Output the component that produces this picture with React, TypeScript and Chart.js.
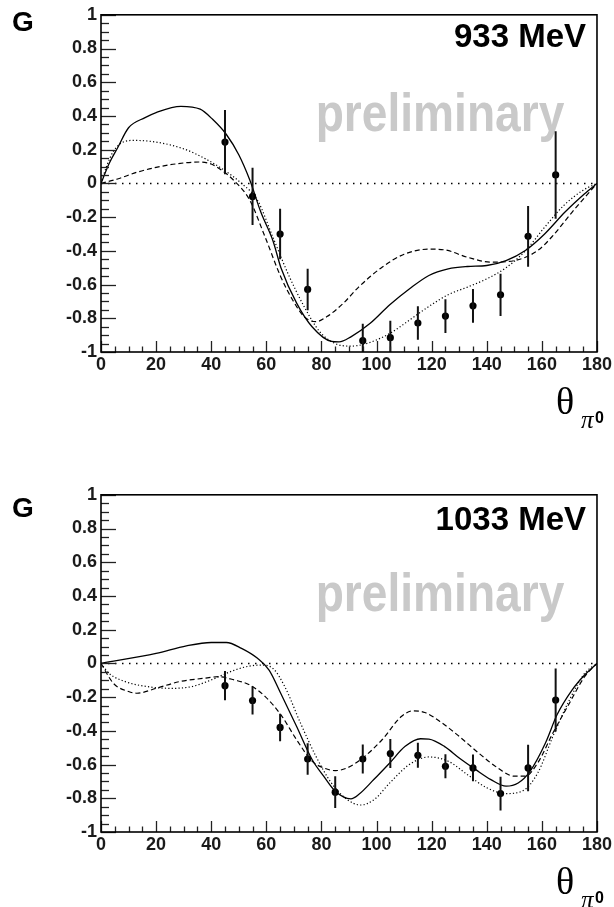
import React, { useEffect, useRef } from 'react';
import { Chart, registerables } from 'chart.js';
Chart.register(...registerables);

// ---------- axes ----------
const xTickValues = [0, 20, 40, 60, 80, 100, 120, 140, 160, 180];
const xTickLabels = ['0', '20', '40', '60', '80', '100', '120', '140', '160', '180'];
const yTickValues = [-1, -0.8, -0.6, -0.4, -0.2, 0, 0.2, 0.4, 0.6, 0.8, 1];
const yTickLabels = ['-1', '-0.8', '-0.6', '-0.4', '-0.2', '0', '0.2', '0.4', '0.6', '0.8', '1'];
const refLineX = [0, 180];
const refLineY = [0, 0];

// ---------- 933 MeV ----------
const data933X = [45, 55, 65, 75, 95, 105, 115, 125, 135, 145, 155, 165];
const data933Y = [0.245, -0.077, -0.3, -0.629, -0.933, -0.915, -0.828, -0.787, -0.726, -0.661, -0.314, 0.05];
const data933Err = [0.19, 0.17, 0.15, 0.123, 0.1, 0.1, 0.1, 0.1, 0.1, 0.125, 0.18, 0.26];

const solid933X = [0, 3, 6, 10, 16, 20, 29, 36, 40.5, 45.5, 50, 54, 58, 62.4, 65.3, 71, 76.6, 83.6, 86.4, 90.7, 97.7, 104.8, 112, 119, 126, 133, 140, 147, 154, 161, 168.4, 175.4, 180];
const solid933Y = [0, 0.12, 0.21, 0.33, 0.39, 0.42, 0.457, 0.44, 0.38, 0.29, 0.17, 0.02, -0.17, -0.34, -0.5, -0.71, -0.85, -0.937, -0.94, -0.91, -0.83, -0.72, -0.625, -0.546, -0.507, -0.493, -0.487, -0.458, -0.398, -0.3, -0.17, -0.063, 0];

const dashed933X = [0, 6, 13, 20, 27, 35.6, 40, 44, 48.3, 54, 59.6, 65.3, 69.5, 73.7, 78, 82, 88, 93.5, 102, 110, 119, 124.6, 133, 141.5, 150, 158.5, 164, 171, 180];
const dashed933Y = [0, 0.026, 0.066, 0.095, 0.115, 0.127, 0.115, 0.075, 0.016, -0.1, -0.32, -0.556, -0.69, -0.79, -0.82, -0.79, -0.71, -0.615, -0.497, -0.42, -0.39, -0.394, -0.438, -0.467, -0.458, -0.398, -0.31, -0.17, 0];

const dotted933X = [0, 2, 4.5, 8.8, 12, 20, 30, 38, 45, 51, 56.8, 62.4, 68, 73.7, 79.4, 85, 90.7, 96.3, 104.8, 112, 119, 126, 133, 140, 147, 154, 161, 168, 175, 180];
const dotted933Y = [0, 0.1, 0.19, 0.25, 0.255, 0.245, 0.205, 0.145, 0.075, 0, -0.1, -0.32, -0.54, -0.73, -0.88, -0.95, -0.965, -0.95, -0.89, -0.81, -0.73, -0.66, -0.615, -0.566, -0.5, -0.4, -0.26, -0.13, -0.04, 0];

// ---------- 1033 MeV ----------
const data1033X = [45, 55, 65, 75, 85, 95, 105, 115, 125, 135, 145, 155, 165];
const data1033Y = [-0.132, -0.22, -0.38, -0.567, -0.764, -0.567, -0.535, -0.545, -0.61, -0.62, -0.772, -0.62, -0.217];
const data1033Err = [0.087, 0.083, 0.082, 0.094, 0.094, 0.086, 0.086, 0.074, 0.071, 0.079, 0.1, 0.138, 0.187];

const solid1033X = [0, 20, 31, 40, 45.5, 51, 56.8, 61, 65.3, 71, 76.6, 80.8, 85, 90.7, 93.5, 99, 104.8, 110.4, 116, 119, 124.6, 130, 136, 141.5, 147, 151.4, 155.7, 161.3, 165.5, 171, 175.5, 180];
const solid1033Y = [0, 0.059, 0.104, 0.124, 0.124, 0.089, 0.03, -0.04, -0.18, -0.374, -0.57, -0.669, -0.758, -0.803, -0.778, -0.689, -0.59, -0.492, -0.447, -0.449, -0.492, -0.561, -0.63, -0.689, -0.728, -0.709, -0.64, -0.472, -0.305, -0.157, -0.069, 0];

const dashed1033X = [0, 4.5, 10, 13, 20, 28.5, 37, 42.7, 48.3, 54, 59.6, 65.3, 71, 76.6, 80.8, 85, 89.3, 95, 102, 109, 113.3, 117.5, 123, 130, 137, 144, 150, 154, 158.5, 164, 170, 175.5, 180];
const dashed1033Y = [0, -0.118, -0.167, -0.177, -0.148, -0.108, -0.089, -0.079, -0.098, -0.128, -0.197, -0.305, -0.453, -0.58, -0.62, -0.636, -0.62, -0.561, -0.453, -0.315, -0.281, -0.291, -0.344, -0.433, -0.531, -0.62, -0.669, -0.669, -0.59, -0.413, -0.236, -0.079, 0];

const dotted1033X = [0, 3, 8.8, 17, 25.7, 32.8, 40, 47, 52.6, 58, 62.4, 66.7, 72.4, 78, 83.6, 89.3, 94.2, 99.2, 104.8, 111.9, 119, 126, 133, 140, 147, 152.8, 158.5, 164, 170, 175.5, 180];
const dotted1033Y = [0, -0.06, -0.108, -0.138, -0.148, -0.138, -0.098, -0.049, -0.02, -0.01, -0.03, -0.138, -0.354, -0.551, -0.709, -0.807, -0.84, -0.807, -0.709, -0.6, -0.555, -0.58, -0.66, -0.738, -0.772, -0.758, -0.65, -0.433, -0.217, -0.059, 0];

const zip = (xs: number[], ys: number[]) => xs.map((x, i) => ({ x, y: ys[i] }));
const SANS = '"Liberation Sans", Arial, Helvetica, sans-serif';
const SERIF = '"Liberation Serif", "DejaVu Serif", serif';

type PanelProps = {
  height: number;
  energy: string;
  ptsX: number[]; ptsY: number[]; ptsErr: number[];
  solidX: number[]; solidY: number[];
  dashedX: number[]; dashedY: number[];
  dottedX: number[]; dottedY: number[];
  gBase: number; energyBase: number; prelimBase: number;
};

function Panel(p: PanelProps) {
  const ref = useRef<HTMLCanvasElement | null>(null);
  useEffect(() => {
    if (!ref.current) return;
    const FRAME_BOTTOM = 352;
    const decor = {
      id: 'rootDecor',
      beforeDatasetsDraw(chart: any) {
        const ctx = chart.ctx;
        ctx.save();
        ctx.translate(440, p.prelimBase);
        ctx.scale(0.87, 1);
        ctx.font = `bold 53px ${SANS}`;
        ctx.fillStyle = '#c9c9c9';
        ctx.textAlign = 'center';
        ctx.textBaseline = 'alphabetic';
        ctx.fillText('preliminary', 0, 0);
        ctx.restore();
      },
      afterDatasetsDraw(chart: any) {
        const ctx = chart.ctx;
        const a = chart.chartArea;
        const xs = chart.scales.x;
        const ys = chart.scales.y;
        ctx.save();
        ctx.beginPath();
        ctx.rect(a.left, a.top, a.right - a.left, a.bottom - a.top);
        ctx.clip();
        ctx.strokeStyle = '#111';
        ctx.lineWidth = 2;
        p.ptsX.forEach((x, i) => {
          const px = xs.getPixelForValue(x);
          ctx.beginPath();
          ctx.moveTo(px, ys.getPixelForValue(p.ptsY[i] + p.ptsErr[i]));
          ctx.lineTo(px, ys.getPixelForValue(p.ptsY[i] - p.ptsErr[i]));
          ctx.stroke();
        });
        ctx.restore();
      },
      afterDraw(chart: any) {
        const ctx = chart.ctx;
        const a = chart.chartArea;
        const xs = chart.scales.x;
        const ys = chart.scales.y;
        ctx.save();
        ctx.strokeStyle = '#222';
        ctx.lineWidth = 1.3;
        for (let v = 0; v <= 180.001; v += 5) {
          const px = Math.round(xs.getPixelForValue(v)) + 0.5;
          const len = Math.abs(v % 20) < 1e-6 ? 11 : 5.5;
          ctx.beginPath();
          ctx.moveTo(px, a.bottom);
          ctx.lineTo(px, a.bottom - len);
          ctx.stroke();
        }
        for (let k = 0; k <= 40; k++) {
          const v = -1 + k * 0.05;
          const py = Math.round(ys.getPixelForValue(v)) + 0.5;
          const len = k % 4 === 0 ? 15 : 8;
          ctx.beginPath();
          ctx.moveTo(a.left, py);
          ctx.lineTo(a.left + len, py);
          ctx.stroke();
        }
        ctx.strokeStyle = '#000';
        ctx.lineWidth = 1.6;
        ctx.strokeRect(a.left, a.top, a.right - a.left, a.bottom - a.top);
        ctx.fillStyle = '#000';
        ctx.textBaseline = 'alphabetic';
        ctx.textAlign = 'left';
        ctx.font = `bold 28px ${SANS}`;
        ctx.fillText('G', 12, p.gBase);
        ctx.textAlign = 'right';
        ctx.font = `bold 33px ${SANS}`;
        ctx.fillText(p.energy, 586, p.energyBase);
        ctx.textAlign = 'left';
        ctx.font = `38px ${SERIF}`;
        ctx.fillText('θ', 556, 414);
        ctx.font = `italic 25px ${SERIF}`;
        ctx.fillText('π', 581, 428);
        ctx.font = `bold 16px ${SANS}`;
        ctx.fillText('0', 595, 423);
        ctx.restore();
      },
    };

    const lineDs = (xs: number[], ys: number[], dash: number[], width: number) => ({
      type: 'scatter' as const,
      data: zip(xs, ys),
      showLine: true,
      borderColor: '#000',
      borderWidth: width,
      borderDash: dash,
      pointRadius: 0,
      pointHoverRadius: 0,
      cubicInterpolationMode: 'monotone' as const,
      fill: false,
    });

    const tickFont = { family: SANS, weight: 'bold', size: 18 };

    const chart = new Chart(ref.current, {
      type: 'scatter',
      data: {
        datasets: [
          { ...lineDs(refLineX, refLineY, [1.5, 5.5], 1.5), cubicInterpolationMode: 'default' as const },
          lineDs(p.dottedX, p.dottedY, [1.2, 2.2], 1.2),
          lineDs(p.dashedX, p.dashedY, [5, 3], 1.2),
          lineDs(p.solidX, p.solidY, [], 1.3),
          {
            type: 'scatter' as const,
            data: zip(p.ptsX, p.ptsY),
            showLine: false,
            pointRadius: 3.6,
            pointHoverRadius: 3.6,
            backgroundColor: '#000',
            borderColor: '#000',
            borderWidth: 0,
          },
        ],
      },
      options: {
        responsive: false,
        animation: false,
        events: [],
        layout: { padding: { top: 14, right: 14, left: 0, bottom: 0 } },
        plugins: { legend: { display: false }, tooltip: { enabled: false }, title: { display: false } },
        scales: {
          x: {
            type: 'linear',
            min: 0,
            max: 180,
            grid: { display: false, drawTicks: false },
            border: { display: false },
            afterBuildTicks: (s: any) => { s.ticks = xTickValues.map((v) => ({ value: v })); },
            afterFit: (s: any) => { s.height = p.height - FRAME_BOTTOM; },
            ticks: {
              padding: 2,
              maxRotation: 0,
              autoSkip: false,
              color: '#1a1a1a',
              font: tickFont,
              callback: (v: any) => xTickLabels[xTickValues.indexOf(Number(v))] ?? '',
            },
          },
          y: {
            type: 'linear',
            min: -1,
            max: 1,
            grid: { display: false, drawTicks: false },
            border: { display: false },
            afterBuildTicks: (s: any) => { s.ticks = yTickValues.map((v) => ({ value: v })); },
            afterFit: (s: any) => { s.width = 101; },
            ticks: {
              padding: 4,
              autoSkip: false,
              color: '#1a1a1a',
              font: tickFont,
              callback: (v: any) => {
                const i = yTickValues.findIndex((t) => Math.abs(t - Number(v)) < 1e-6);
                return i >= 0 ? yTickLabels[i] : '';
              },
            },
          },
        },
      },
      plugins: [decor],
    } as any);
    return () => chart.destroy();
  }, []);
  return <canvas ref={ref} width={614} height={p.height} style={{ display: 'block', width: 614, height: p.height }} />;
}

export default function App() {
  return (
    <div style={{ position: 'absolute', left: 0, top: 0, width: 614, height: 907, background: '#fff' }}>
      <Panel
        height={480}
        energy="933 MeV"
        ptsX={data933X} ptsY={data933Y} ptsErr={data933Err}
        solidX={solid933X} solidY={solid933Y}
        dashedX={dashed933X} dashedY={dashed933Y}
        dottedX={dotted933X} dottedY={dotted933Y}
        gBase={31} energyBase={47} prelimBase={131}
      />
      <Panel
        height={427}
        energy="1033 MeV"
        ptsX={data1033X} ptsY={data1033Y} ptsErr={data1033Err}
        solidX={solid1033X} solidY={solid1033Y}
        dashedX={dashed1033X} dashedY={dashed1033Y}
        dottedX={dotted1033X} dottedY={dotted1033Y}
        gBase={37} energyBase={50} prelimBase={131}
      />
    </div>
  );
}
